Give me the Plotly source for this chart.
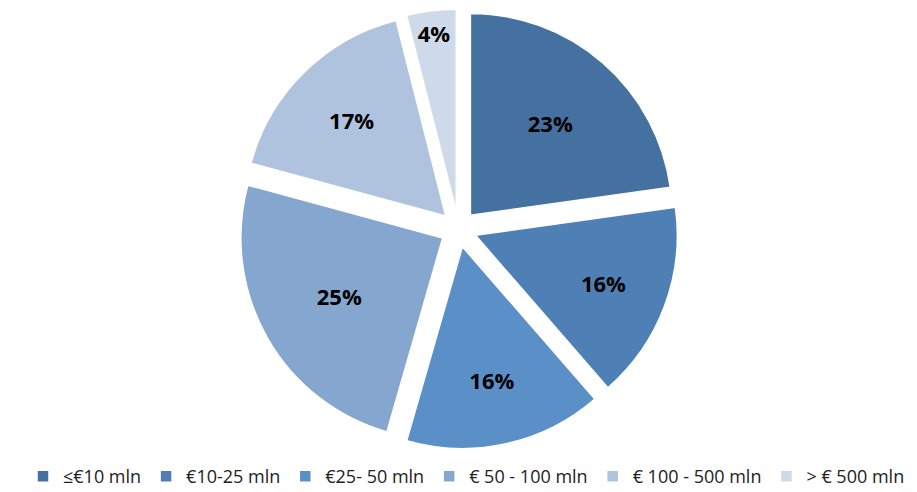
import plotly.graph_objects as go

categories = ["≤€10 mln", "€10-25 mln", "€25- 50 mln", "€ 50 - 100 mln", "€ 100 - 500 mln", "> € 500 mln"]
shares = [23, 16, 16, 25, 17, 4]
colors = ["#4471A0", "#4E80B6", "#5A8FC8", "#84A6CF", "#AFC2DE", "#CED9E9"]

fig = go.Figure(go.Pie(
    labels=categories,
    values=shares,
    sort=False,
    direction="clockwise",
    rotation=0,
    pull=[0.09] * len(shares),
    marker=dict(colors=colors, line=dict(color="white", width=1.5)),
    texttemplate="%{value}%",
    textposition="inside",
    insidetextorientation="horizontal",
    textfont=dict(family="Open Sans", size=22, color="black", weight="bold"),
    hoverinfo="label+value",
))

fig.update_layout(
    width=917, height=492,
    margin=dict(l=0, r=16, t=1, b=51),
    paper_bgcolor="white",
    showlegend=True,
    legend=dict(orientation="h", x=0.5, xanchor="center", xref="container",
                y=0.01, yanchor="bottom", yref="container",
                font=dict(family="Open Sans", size=18, color="#222"),
                itemwidth=30, traceorder="normal"),
)

fig.write_html("out.html")
